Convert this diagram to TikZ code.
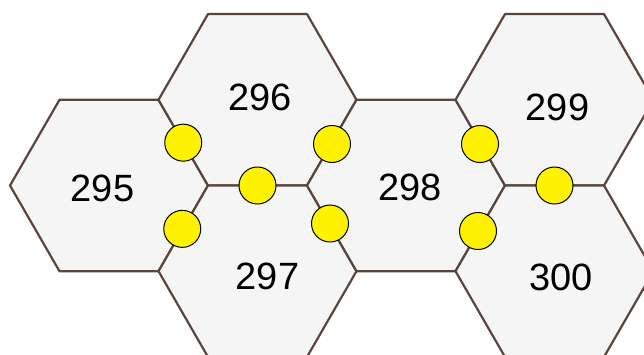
\documentclass[tikz,border=0pt]{standalone}
\usepackage{fontspec}
\setmainfont{Liberation Sans}
\usetikzlibrary{calc}
\definecolor{hexedge}{RGB}{88,70,62}
\definecolor{hexfill}{RGB}{245,245,245}
\begin{document}
\begin{tikzpicture}[x=1pt,y=-1pt,
  hexcell/.style={fill=hexfill,draw=hexedge,line width=2.2pt,line join=round},
  port/.style={circle,fill=yellow,draw=black,line width=1pt,minimum size=37pt,inner sep=0pt},
  num/.style={font=\fontsize{38}{42}\selectfont,inner sep=0pt}]
\useasboundingbox (0,0) rectangle (644,354);
\clip (0,0) rectangle (644,354);
\def\R{99}
% cell centres of the hexagonal grid
\coordinate (c295) at (109,185.5);
\coordinate (c296) at (257.5,99.8);
\coordinate (c297) at (257.5,271.2);
\coordinate (c298) at (406,185.5);
\coordinate (c299) at (554.5,99.8);
\coordinate (c300) at (554.5,271.2);
% flat-topped hexagonal cells
\foreach \c in {295,296,297,298,299,300}
  \draw[hexcell] (c\c) +(0:\R) -- +(60:\R) -- +(120:\R) -- +(180:\R)
    -- +(240:\R) -- +(300:\R) -- cycle;
% cell numbers
\node[num] (t295) at (102.5,188) {295};
\node[num] (t296) at (260,97.5) {296};
\node[num] (t297) at (267.5,276) {297};
\node[num] (t298) at (410,187.5) {298};
\node[num] (t299) at (557.5,107.5) {299};
\node[num] (t300) at (561,277.5) {300};
% ports on the shared edges
\node[port] (p1) at ($(c295)!0.5!(c296)$) {};
\node[port] (p2) at ($(c295)!0.5!(c297)+(-1,0.5)$) {};
\node[port] (p3) at ($(c296)!0.5!(c297)$) {};
\node[port] (p4) at (332,144) {};
\node[port] (p5) at (330,223.5) {};
\node[port] (p6) at (480,144) {};
\node[port] (p7) at (478,231) {};
\node[port] (p8) at ($(c299)!0.5!(c300)$) {};
\end{tikzpicture}
\end{document}
